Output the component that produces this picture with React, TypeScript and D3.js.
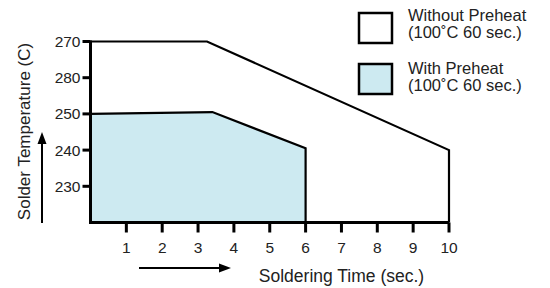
import React from "react";
import * as d3 from "d3";

// soldering time (sec.) vs solder temperature (C)
const timeTicks = [1, 2, 3, 4, 5, 6, 7, 8, 9, 10];
const tempTickValues = [270, 260, 250, 240, 230];
const tempTickLabels = ["270", "280", "250", "240", "230"];

const withoutTime = [0, 3.25, 10];
const withoutTemp = [270, 270, 240];
const withTime = [0, 3.4, 6];
const withTemp = [250, 250.5, 240.5];

const legendLabels = ["Without Preheat", "With Preheat"];
const legendSub = ["(100˚C 60 sec.)", "(100˚C 60 sec.)"];
const legendFills = ["#ffffff", "#cdeaf1"];

const W = 550;
const H = 288;
const FONT = "'Liberation Sans', Arial, sans-serif";

export default function App() {
  const x = d3.scaleLinear().domain([0, 10]).range([90.5, 449]);
  const y = d3.scaleLinear().domain([220, 270]).range([222.5, 41.5]);

  const withoutPts: [number, number][] = withoutTime.map((t, i) => [t, withoutTemp[i]]);
  const withPts: [number, number][] = withTime.map((t, i) => [t, withTemp[i]]);

  const area = d3
    .area<[number, number]>()
    .x((d) => x(d[0]))
    .y0(y(220))
    .y1((d) => y(d[1]));

  const outline = (pts: [number, number][]) =>
    d3.line<[number, number]>().x((d) => x(d[0])).y((d) => y(d[1]))([
      ...pts,
      [pts[pts.length - 1][0], 220],
    ]);

  return (
    <svg
      width={W}
      height={H}
      style={{ position: "absolute", left: 0, top: 0, background: "#fff" }}
      fontFamily={FONT}
    >
      {/* without preheat region */}
      <path d={area(withoutPts) || ""} fill={legendFills[0]} />
      <path d={outline(withoutPts) || ""} fill="none" stroke="#000" strokeWidth={2.2} />
      {/* with preheat region */}
      <path d={area(withPts) || ""} fill={legendFills[1]} />
      <path d={outline(withPts) || ""} fill="none" stroke="#000" strokeWidth={2.2} />

      {/* axes */}
      <line x1={x(0)} x2={x(10)} y1={y(220)} y2={y(220)} stroke="#000" strokeWidth={3} />
      <line x1={x(0)} x2={x(0)} y1={y(270) - 1} y2={y(220) + 1.5} stroke="#000" strokeWidth={3} />

      {tempTickValues.map((v, i) => (
        <g key={v}>
          <line x1={x(0) - 8} x2={x(0)} y1={y(v)} y2={y(v)} stroke="#000" strokeWidth={3} />
          <text x={x(0) - 10} y={y(v)} dy="0.36em" textAnchor="end" fontSize={15.5} fill="#222">
            {tempTickLabels[i]}
          </text>
        </g>
      ))}

      {timeTicks.map((t) => (
        <g key={t}>
          <line x1={x(t)} x2={x(t)} y1={y(220)} y2={y(220) + 10} stroke="#000" strokeWidth={3} />
          <text x={x(t)} y={y(220) + 30} textAnchor="middle" fontSize={15.5} fill="#222">
            {t}
          </text>
        </g>
      ))}

      {/* axis titles with arrows */}
      <text x={341.5} y={281.5} textAnchor="middle" fontSize={17.5} fill="#222">
        Soldering Time (sec.)
      </text>
      <line x1={139} x2={222} y1={268} y2={268} stroke="#000" strokeWidth={2} />
      <path d="M219,263.5 L231,268 L219,272.5 Z" fill="#000" />

      <text
        transform="translate(30,131.5) rotate(-90)"
        textAnchor="middle"
        fontSize={17}
        fill="#222"
      >
        Solder Temperature (C)
      </text>
      <line x1={42} x2={42} y1={223} y2={141} stroke="#000" strokeWidth={2} />
      <path d="M37.5,144 L42,132 L46.5,144 Z" fill="#000" />

      {/* legend */}
      {legendLabels.map((lab, i) => (
        <g key={lab}>
          <rect
            x={359}
            y={13 + i * 51}
            width={33}
            height={30}
            fill={legendFills[i]}
            stroke="#000"
            strokeWidth={2.5}
          />
          <text x={408} y={21 + i * 53} fontSize={16.5} fill="#222">
            {lab}
          </text>
          <text x={408} y={37.5 + i * 53} fontSize={16.5} fill="#222">
            {legendSub[i]}
          </text>
        </g>
      ))}
    </svg>
  );
}
